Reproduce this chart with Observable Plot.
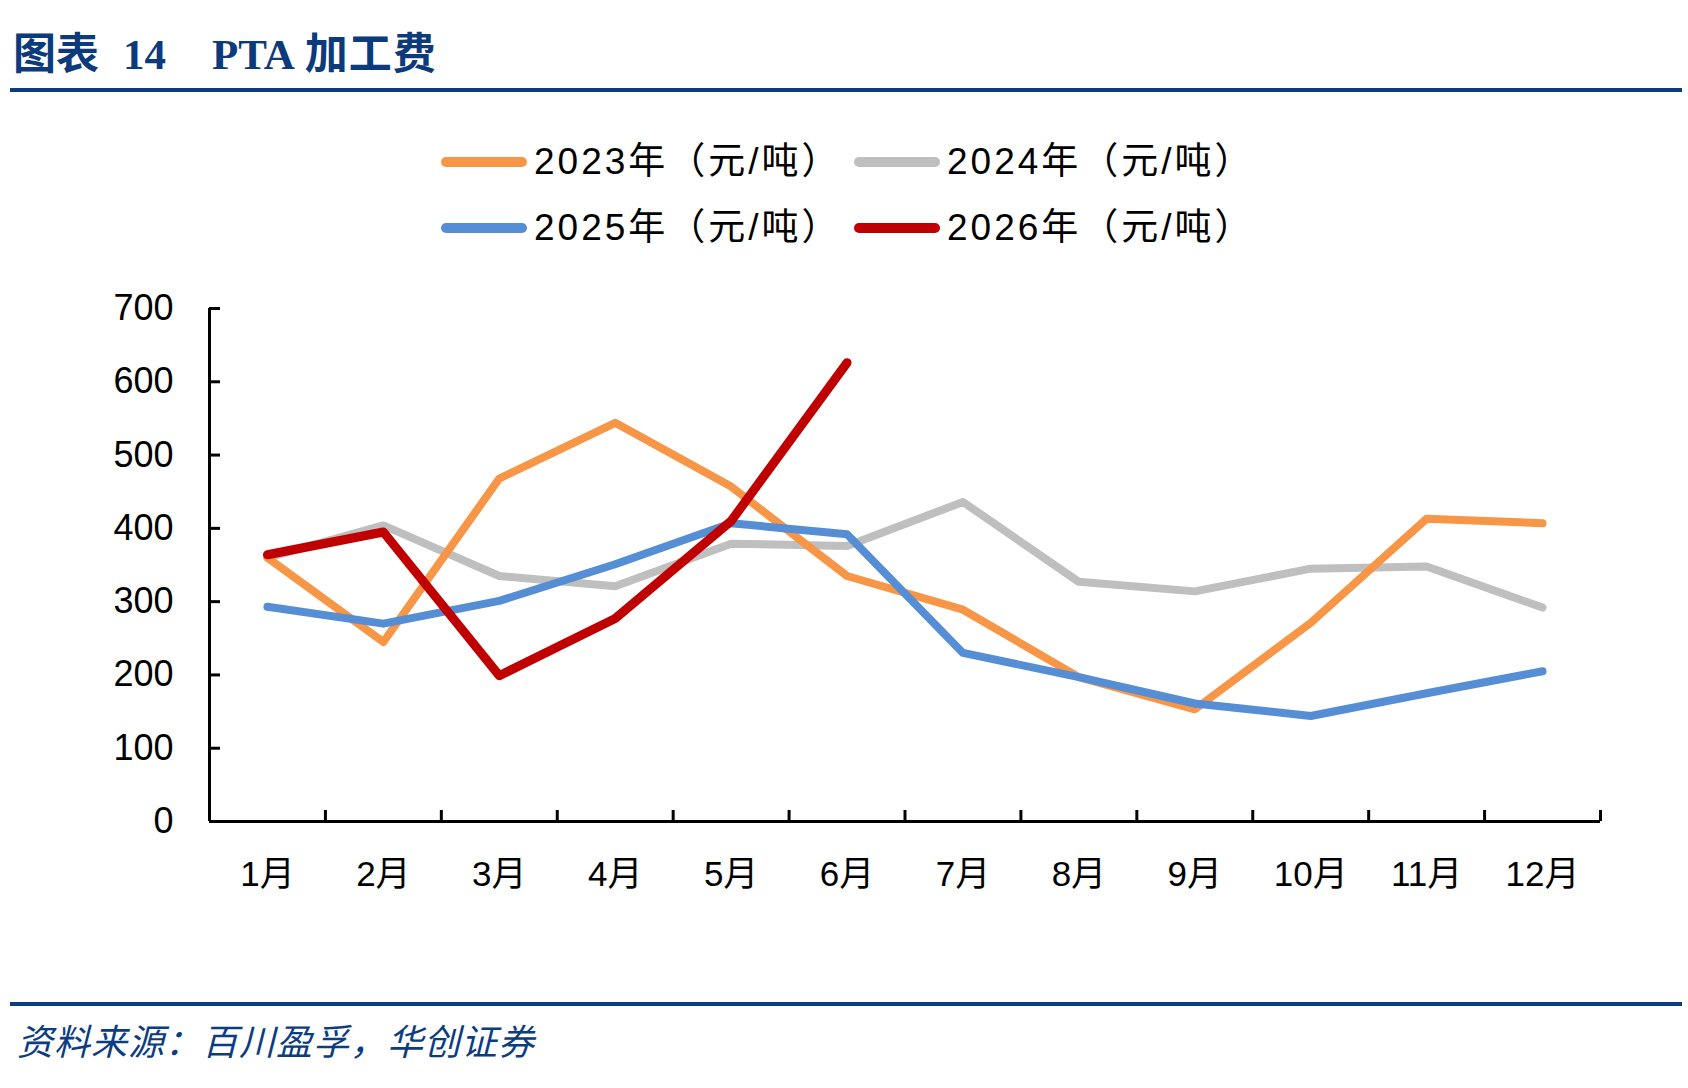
<!DOCTYPE html>
<html><head><meta charset="utf-8">
<script src="https://cdn.jsdelivr.net/npm/d3@7"></script>
<script src="https://cdn.jsdelivr.net/npm/@observablehq/plot@0.6"></script>
<style>
html,body{margin:0;padding:0;background:#fff;}
#page{position:relative;width:1688px;height:1088px;overflow:hidden;font-family:"Liberation Sans","Noto Sans CJK SC",sans-serif;text-spacing-trim:space-all;}
.title{position:absolute;left:13px;top:28px;font-family:"Liberation Serif","Noto Sans CJK SC",serif;font-weight:bold;font-size:43px;color:#0c3a7a;white-space:pre;line-height:54px;}
.title span{display:inline-block;}
.rule{position:absolute;left:10px;width:1672px;height:4px;background:#0c3d80;}
.leg{position:absolute;font-size:37px;color:#000;white-space:pre;line-height:44px;letter-spacing:3px;}
.sw{position:absolute;height:10px;border-radius:5px;}
.src{position:absolute;left:17px;top:1016px;font-size:36px;letter-spacing:1px;font-style:italic;color:#0c3d80;white-space:pre;line-height:46px;font-family:"Noto Sans CJK SC",sans-serif;}
#chart{position:absolute;left:0;top:270px;}
</style></head>
<body><div id="page">
<div class="title"><span>图表</span><span style="margin-left:24px">14</span><span style="margin-left:46px">PTA</span><span style="margin-left:10px;letter-spacing:1px">加工费</span></div>
<div class="rule" style="top:88px"></div>
<div id="legend"></div>
<div id="chart"></div>
<div class="rule" style="top:1002px"></div>
<div class="src">资料来源：百川盈孚，华创证券</div>
</div>
<script>
const months = ["1月","2月","3月","4月","5月","6月","7月","8月","9月","10月","11月","12月"];
const seriesNames = ["2023年（元/吨）","2024年（元/吨）","2025年（元/吨）","2026年（元/吨）"];
const seriesColors = ["#f79646","#bfbfbf","#558ed5","#c00000"];
const v2023 = [360,245,468,544,457,335,289,197,153,271,413,407];
const v2024 = [360,404,335,321,379,376,436,327,314,345,348,292];
const v2025 = [293,270,301,351,407,392,230,197,161,144,175,205];
const v2026 = [364,395,199,277,410,626];
const yTicks = [0,100,200,300,400,500,600,700];

const all = [v2023, v2024, v2025, v2026];
const rows = [];
all.forEach((vals, si) => vals.forEach((v, i) => rows.push({series: seriesNames[si], m: i + 1, v})));
const idx = months.map((_, i) => i + 1);
const bounds = d3.range(0.5, 13, 1);

const W = 1688, H = 640, mL = 209, mR = 88, mT = 38, mB = 89;
const plotW = W - mL - mR, plotH = H - mT - mB;
const drawOrder = [1, 0, 2, 3];

const marks = [];
drawOrder.forEach(si => {
  marks.push(Plot.line(rows.filter(r => r.series === seriesNames[si]), {
    x: "m", y: "v", stroke: seriesColors[si], strokeWidth: si === 3 ? 9 : 8,
    strokeLinecap: "round", strokeLinejoin: "round"
  }));
});
marks.push(
  Plot.ruleY([0], {stroke: "#000", strokeWidth: 3}),
  Plot.ruleX([0.5], {stroke: "#000", strokeWidth: 3}),
  Plot.tickY(yTicks, {y: d => d, stroke: "#000", strokeWidth: 3, insetRight: plotW - 11}),
  Plot.tickX(bounds.slice(1), {x: d => d, stroke: "#000", strokeWidth: 3, insetTop: plotH - 11}),
  Plot.axisY(yTicks, {tickSize: 0, tickPadding: 36, fontSize: 36, fill: "#000", label: null, tickFormat: d => String(d)}),
  Plot.axisX(idx, {tickSize: 0, tickPadding: 40, fontSize: 35, fill: "#000", label: null, tickFormat: d => months[d - 1]})
);

const svg = Plot.plot({
  width: W, height: H,
  marginLeft: mL, marginRight: mR, marginTop: mT, marginBottom: mB,
  style: {fontFamily: '"Liberation Sans","Noto Sans CJK SC",sans-serif', background: "transparent", overflow: "visible"},
  x: {type: "linear", domain: [0.5, 12.5], label: null},
  y: {domain: [0, 700], label: null},
  marks
});
document.getElementById("chart").appendChild(svg);

// legend
const legPos = [[441, 162], [854, 162], [441, 228], [854, 228]];
const leg = document.getElementById("legend");
seriesNames.forEach((name, i) => {
  const [x, y] = legPos[i];
  const sw = document.createElement("div");
  sw.className = "sw";
  sw.style.cssText = `left:${x}px;top:${y - 5}px;width:86px;background:${seriesColors[i]}`;
  leg.appendChild(sw);
  const t = document.createElement("div");
  t.className = "leg";
  t.style.cssText = `left:${x + 93}px;top:${y - 22}px`;
  t.textContent = name;
  leg.appendChild(t);
});
</script>
</body></html>
